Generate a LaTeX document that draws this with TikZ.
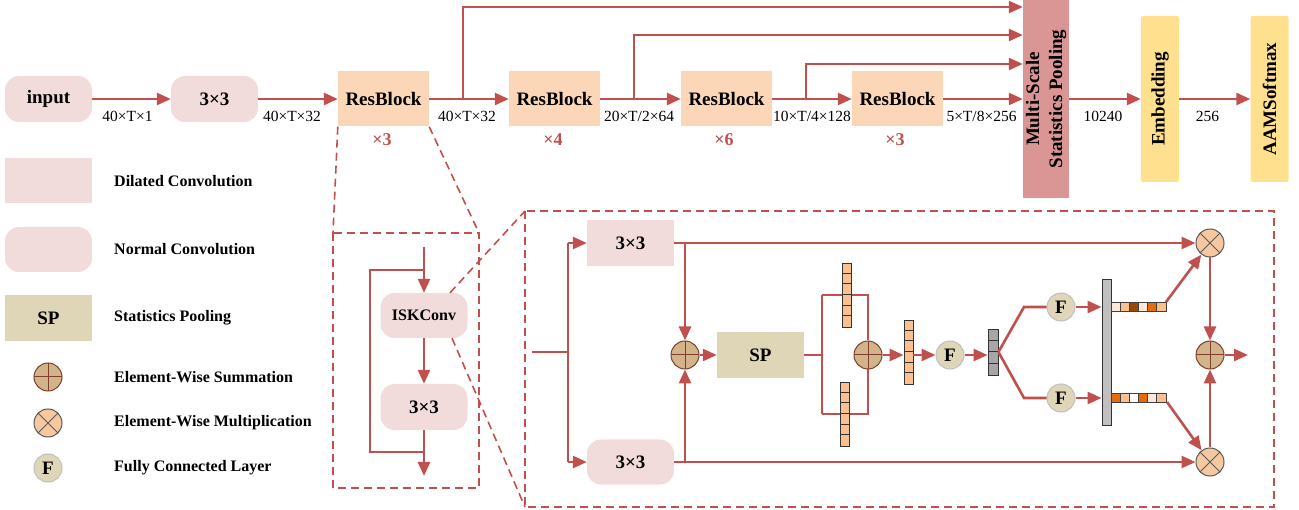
\documentclass[tikz,border=0pt]{standalone}
\usepackage{fontspec}
\setmainfont{Liberation Serif}
\usetikzlibrary{arrows.meta,calc}
\definecolor{lred}{HTML}{C0504D}
\definecolor{convpink}{HTML}{F2DCDB}
\definecolor{respeach}{HTML}{FBD6B7}
\definecolor{poolrose}{HTML}{D99694}
\definecolor{embyel}{HTML}{FFE08F}
\definecolor{sptan}{HTML}{DFD6B8}
\definecolor{sumfill}{HTML}{D2B48A}
\definecolor{sumdraw}{HTML}{7F3F2A}
\definecolor{mulfill}{HTML}{F6C8A0}
\definecolor{cellpeach}{HTML}{FAC090}
\definecolor{celllight}{HTML}{FDE9D9}
\definecolor{cellbrown}{HTML}{984807}
\definecolor{cellorange}{HTML}{E46C0A}
\definecolor{bargray}{HTML}{BFBFBF}
\definecolor{bardark}{HTML}{A6A6A6}
\newcommand{\fbig}{\fontsize{19}{23}\selectfont\bfseries}
\newcommand{\fdim}{\fontsize{15.5}{18}\selectfont}
\newcommand{\fleg}{\fontsize{16}{19}\selectfont\bfseries}
\newcommand{\fisk}{\fontsize{16}{19}\selectfont\bfseries}
\newcommand{\frep}{\fontsize{18}{21}\selectfont\bfseries}
\begin{document}
\begin{tikzpicture}[x=1pt,y=-1pt,
  >={Triangle[length=14pt,width=12pt]},
  line/.style={draw=lred,line width=2.6pt},
  conn/.style={line,->},
  dsh/.style={draw=lred,line width=1.6pt,dash pattern=on 8pt off 5pt},
  conv/.style={fill=convpink,rounded corners=14pt,minimum width=87pt,minimum height=46pt,inner sep=0pt,font=\fbig},
  dil/.style={fill=convpink,minimum width=87pt,minimum height=46pt,inner sep=0pt,font=\fbig},
  resb/.style={fill=respeach,minimum width=91pt,minimum height=55pt,inner sep=0pt,font=\fbig},
  tall/.style={fill=embyel,rounded corners=2pt,minimum width=38pt,minimum height=166pt,inner sep=0pt},
  dimlab/.style={font=\fdim,inner sep=0pt},
  rep/.style={font=\frep,text=lred,inner sep=0pt},
  legtxt/.style={anchor=west,font=\fleg,inner sep=0pt},
  sumc/.style={circle,fill=sumfill,draw=sumdraw,line width=1pt,minimum size=28pt,inner sep=0pt,
    path picture={\draw[sumdraw,line width=1pt] (path picture bounding box.north) -- (path picture bounding box.south)
      (path picture bounding box.west) -- (path picture bounding box.east);}},
  mulc/.style={circle,fill=mulfill,draw=black!65,line width=1pt,minimum size=28pt,inner sep=0pt,
    path picture={\draw[black!65,line width=1pt] (path picture bounding box.north west) -- (path picture bounding box.south east)
      (path picture bounding box.south west) -- (path picture bounding box.north east);}},
  fcc/.style={circle,fill=sptan,draw=black!25,line width=1pt,minimum size=28pt,inner sep=0pt,font=\fbig},
  vbar/.style={draw=black!80,line width=0.9pt,fill=cellpeach,minimum width=9pt,minimum height=64pt,inner sep=0pt},
]
\useasboundingbox (0,0) rectangle (1299,510);

% ---------- top row ----------
\node[conv] (input) at (48.5,99) {input};
\node[conv] (c1) at (214.5,99) {3×3};
\node[resb] (rb1) at (383.5,99) {ResBlock};
\node[resb] (rb2) at (554.5,99) {ResBlock};
\node[resb] (rb3) at (726.5,99) {ResBlock};
\node[resb] (rb4) at (897.5,99) {ResBlock};
\node[fill=poolrose,minimum width=46pt,minimum height=198pt,inner sep=0pt] (msp) at (1046,99) {};
\node[rotate=90,align=center,font=\fbig] (msptxt) at (msp.center) {Multi-Scale\\Statistics Pooling};
\node[tall] (emb) at (1160,99) {};
\node[rotate=90,font=\fbig] (embtxt) at (emb.center) {Embedding};
\node[tall] (aam) at (1269.5,99) {};
\node[rotate=90,font=\fbig] (aamtxt) at (aam.center) {AAMSoftmax};

\draw[conn] (input.east) -- (c1.west);
\draw[conn] (c1.east) -- (rb1.west);
\draw[conn] (rb1.east) -- (rb2.west);
\draw[conn] (rb2.east) -- (rb3.west);
\draw[conn] (rb3.east) -- (rb4.west);
\draw[conn] (rb4.east) -- (rb4.east -| msp.west);
\draw[conn] (msp.east |- emb.west) -- (emb.west);
\draw[conn] (emb.east) -- (aam.west);

\coordinate (br1a) at (463,99);  \coordinate (br1b) at (463,7);
\coordinate (br2a) at (634,99);  \coordinate (br2b) at (634,35);
\coordinate (br3a) at (806,99);  \coordinate (br3b) at (806,64);
\draw[conn] (br1a) -- (br1b) -- (br1b -| msp.west);
\draw[conn] (br2a) -- (br2b) -- (br2b -| msp.west);
\draw[conn] (br3a) -- (br3b) -- (br3b -| msp.west);

\node[dimlab] (l1) at (127.5,116) {40×T×1};
\node[dimlab] (l2) at (292,116) {40×T×32};
\node[dimlab] (l3) at (467,116) {40×T×32};
\node[dimlab] (l4) at (639,116) {20×T/2×64};
\node[dimlab] (l5) at (812,116) {10×T/4×128};
\node[dimlab] (l6) at (981.5,116) {5×T/8×256};
\node[dimlab] (l7) at (1103,116) {10240};
\node[dimlab] (l8) at (1207.5,116) {256};
\node[rep] (r1) at (382,140) {×3};
\node[rep] (r2) at (553,140) {×4};
\node[rep] (r3) at (724,140) {×6};
\node[rep] (r4) at (895,140) {×3};

% ---------- legend ----------
\node[dil,minimum height=45pt] (lg1) at (48.5,180.5) {};
\node[legtxt] (lt1) at (114,181) {Dilated Convolution};
\node[conv,minimum height=45pt] (lg2) at (48.5,249.5) {};
\node[legtxt] (lt2) at (114,249) {Normal Convolution};
\node[fill=sptan,minimum width=87pt,minimum height=46pt,inner sep=0pt,font=\fbig] (lg3) at (48.5,318) {SP};
\node[legtxt] (lt3) at (114,318) {Statistics Pooling};
\node[sumc] (lg4) at (48,377) {};
\node[legtxt] (lt4) at (114,377) {Element-Wise Summation};
\node[mulc] (lg5) at (48,423) {};
\node[legtxt] (lt5) at (114,423) {Element-Wise Multiplication};
\node[fcc] (lg6) at (48,468) {F};
\node[legtxt] (lt6) at (114,468) {Fully Connected Layer};

% ---------- left residual box ----------
\coordinate (lbnw) at (333,233);
\coordinate (lbse) at (479,488);
\draw[dsh] (lbnw) rectangle (lbse);
\draw[dsh] (rb1.south west) -- (lbnw);
\draw[dsh] (rb1.south east) -- (lbse |- lbnw);
\node[conv,minimum height=45pt,font=\fisk] (isk) at (424,315.5) {ISKConv};
\node[conv] (c2) at (424,407) {3×3};
\coordinate (kin) at (424,247);
\coordinate (ksplit) at (424,270);
\coordinate (kl1) at (370,270);
\coordinate (kl2) at (370,452);
\coordinate (kmerge) at (424,452);
\coordinate (kout) at (424,476);
\draw[conn] (kin) -- (isk.north);
\draw[line] (ksplit) -- (kl1) -- (kl2) -- (kmerge);
\draw[conn] (isk.south) -- (c2.north);
\draw[conn] (c2.south) -- (kout);

% ---------- big ISKConv box ----------
\coordinate (bbnw) at (525,211);
\coordinate (bbse) at (1274,507);
\draw[dsh] (bbnw) rectangle (bbse);
\draw[dsh] ($(isk.north)+(26,0)$) -- (bbnw);
\draw[dsh] ($(isk.south)+(28,0)$) -- (bbnw |- bbse);

\node[dil] (d33) at (630.5,243) {3×3};
\node[conv,minimum height=45pt] (n33) at (630.5,462) {3×3};
\node[sumc] (sum1) at (685,355) {};
\node[fill=sptan,minimum width=87pt,minimum height=46pt,inner sep=0pt,font=\fbig] (sp) at (760.5,355) {SP};
\node[sumc] (sum2) at (868,355) {};
\node[fcc] (F1) at (950,355) {F};
\node[fcc] (F2) at (1061,307) {F};
\node[fcc] (F3) at (1061,398) {F};
\node[mulc] (mul1) at (1210,243) {};
\node[mulc] (mul2) at (1210,462) {};
\node[sumc] (sum3) at (1210,355) {};

\coordinate (bin) at (532,352);
\coordinate (bsp) at (568,352);
\coordinate (bt) at (568,243);
\coordinate (bb) at (568,462);
\draw[line] (bin) -- (bsp);
\draw[line] (bt) -- (bb);
\draw[conn] (bt) -- (d33.west);
\draw[conn] (bb) -- (n33.west);
\draw[conn] (d33.east) -- (mul1.west);
\draw[conn] (n33.east) -- (mul2.west);
\draw[conn] (d33.east -| sum1) -- (sum1.north);
\draw[conn] (n33.east -| sum1) -- (sum1.south);
\draw[conn] (sum1.east) -- (sp.west);

\coordinate (j1) at (822,355);
\coordinate (jt1) at (822,295);
\coordinate (jt2) at (868,295);
\coordinate (jb1) at (822,414);
\coordinate (jb2) at (868,414);
\draw[line] (sp.east) -- (j1);
\draw[line] (jt1) -- (jb1);
\draw[line] (jt1) -- (jt2) -- (sum2.north);
\draw[line] (jb1) -- (jb2) -- (sum2.south);

\node[vbar] (v1) at (846.5,295) {};
\node[vbar] (v2) at (844.5,414) {};
\node[vbar] (v3) at (908.5,352) {};
\foreach \b in {v1,v2,v3}{
  \foreach \k in {1,...,5}{
    \draw[black!80,line width=0.9pt] ($(\b.north west)+(0,\k*10.667)$) -- ++(9,0);
  }
}
\draw[conn] (sum2.east) -- (sum2.east -| v3.west);
\draw[conn] (v3.east |- F1.west) -- (F1.west);

\node[draw=black!80,line width=0.9pt,fill=bardark,minimum width=10pt,minimum height=46pt,inner sep=0pt] (g1) at (993,352) {};
\foreach \k in {1,...,3}{
  \draw[black!80,line width=0.9pt] ($(g1.north west)+(0,\k*11.5)$) -- ++(10,0);
}
\draw[conn] (F1.east) -- (F1.east -| g1.west);

\coordinate (k1) at (1024,307);
\coordinate (k2) at (1024,398);
\draw[line] (g1.east) -- (k1) -- (F2.west);
\draw[line] (g1.east) -- (k2) -- (F3.west);

\node[draw=black!80,line width=0.9pt,fill=bargray,minimum width=9pt,minimum height=146pt,inner sep=0pt] (G) at (1106.5,352) {};
\draw[conn] (F2.east) -- (F2.east -| G.west);
\draw[conn] (F3.east) -- (F3.east -| G.west);

\foreach \c [count=\i from 0] in {celllight,cellpeach,cellbrown,celllight,cellorange,cellpeach}{
  \draw[draw=black!75,line width=0.8pt,fill=\c] ({1111+\i*9.17},302) rectangle ++(9.17,9);
}
\foreach \c [count=\i from 0] in {cellorange,cellpeach,white,cellorange,celllight,cellpeach}{
  \draw[draw=black!75,line width=0.8pt,fill=\c] ({1111+\i*9.17},393) rectangle ++(9.17,9);
}
\coordinate (at1) at (1166,302);
\coordinate (at2) at (1167,402);
\draw[conn] (at1) -- (mul1);
\draw[conn] (at2) -- (mul2);
\draw[conn] (mul1.south) -- (sum3.north);
\draw[conn] (mul2.north) -- (sum3.south);
\coordinate (bout) at (1248,355);
\draw[conn] (sum3.east) -- (bout);
\end{tikzpicture}
\end{document}
